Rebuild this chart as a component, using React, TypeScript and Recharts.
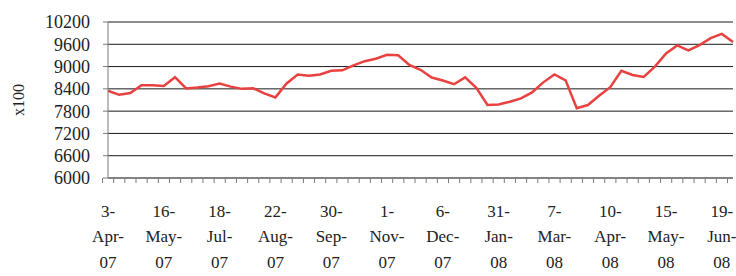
import { LineChart, Line, XAxis, YAxis, CartesianGrid } from 'recharts';

// tick labels shown under every fifth point
const dateLabels = [
  '3-Apr-07', '16-May-07', '18-Jul-07', '22-Aug-07', '30-Sep-07', '1-Nov-07',
  '6-Dec-07', '31-Jan-08', '7-Mar-08', '10-Apr-08', '15-May-08', '19-Jun-08',
];

// index values (x100)
const indexValues = [
  8350, 8240, 8290, 8500, 8500, 8480, 8715, 8410, 8435, 8470,
  8545, 8460, 8400, 8415, 8280, 8170, 8545, 8785, 8750, 8785,
  8885, 8900, 9030, 9145, 9210, 9315, 9305, 9045, 8915, 8705,
  8625, 8525, 8710, 8425, 7965, 7980, 8055, 8145, 8305, 8575,
  8790, 8630, 7880, 7965, 8215, 8445, 8885, 8775, 8720, 9000,
  9355, 9570, 9435, 9580, 9765, 9880, 9660,
];

const yTicks = [6000, 6600, 7200, 7800, 8400, 9000, 9600, 10200];

const data = indexValues.map((v, i) => ({
  key: String(i),
  label: i % 5 === 0 ? dateLabels[i / 5] : '',
  value: v,
}));

const FONT = '"Liberation Serif", "DejaVu Serif", serif';
const AXIS = '#7a7a7a';

// Excel-style: tick marks on category boundaries, label on every fifth category
function DateTick(props: any) {
  const { x, y, payload, index, width, visibleTicksCount } = props;
  const bw = width / visibleTicksCount;
  const txt: string = data[index]?.label ?? '';
  const parts = txt ? txt.split('-') : [];
  return (
    <g>
      <line x1={x - bw / 2} x2={x - bw / 2} y1={y} y2={y + 5} stroke={AXIS} />
      {index === visibleTicksCount - 1 && (
        <line x1={x + bw / 2} x2={x + bw / 2} y1={y} y2={y + 5} stroke={AXIS} />
      )}
      {parts.length === 3 && (
        <g fontFamily={FONT} fontSize={17} fill="#222" textAnchor="middle">
          <text x={x} y={y + 39}>{parts[0]}-</text>
          <text x={x} y={y + 64}>{parts[1]}-</text>
          <text x={x} y={y + 90}>{parts[2]}</text>
        </g>
      )}
      {payload ? null : null}
    </g>
  );
}

export default function App() {
  return (
    <div style={{ position: 'absolute', left: 0, top: 0, background: '#fff', fontFamily: FONT }}>
      <LineChart
        width={736}
        height={276}
        data={data}
        margin={{ top: 22, right: 3, bottom: 0, left: 0 }}
      >
        <CartesianGrid horizontal vertical={false} stroke="#1a1a1a" strokeWidth={1} />
        <XAxis
          dataKey="key"
          interval={0}
          height={98}
          stroke={AXIS}
          tickLine={false}
          tickSize={0}
          tickMargin={0}
          tick={<DateTick />}
        />
        <YAxis
          width={108}
          domain={[6000, 10200]}
          ticks={yTicks}
          interval={0}
          stroke={AXIS}
          tickSize={5}
          tickMargin={13}
          tick={{ fontFamily: FONT, fontSize: 18, fill: '#222' }}
          label={{
            value: 'x100',
            angle: -90,
            position: 'insideLeft',
            offset: 18,
            style: { textAnchor: 'middle', fontFamily: FONT, fontSize: 16, fill: '#222' },
          }}
        />
        <Line
          type="linear"
          dataKey="value"
          stroke="#e8413f"
          strokeWidth={2.5}
          dot={false}
          isAnimationActive={false}
        />
      </LineChart>
    </div>
  );
}
